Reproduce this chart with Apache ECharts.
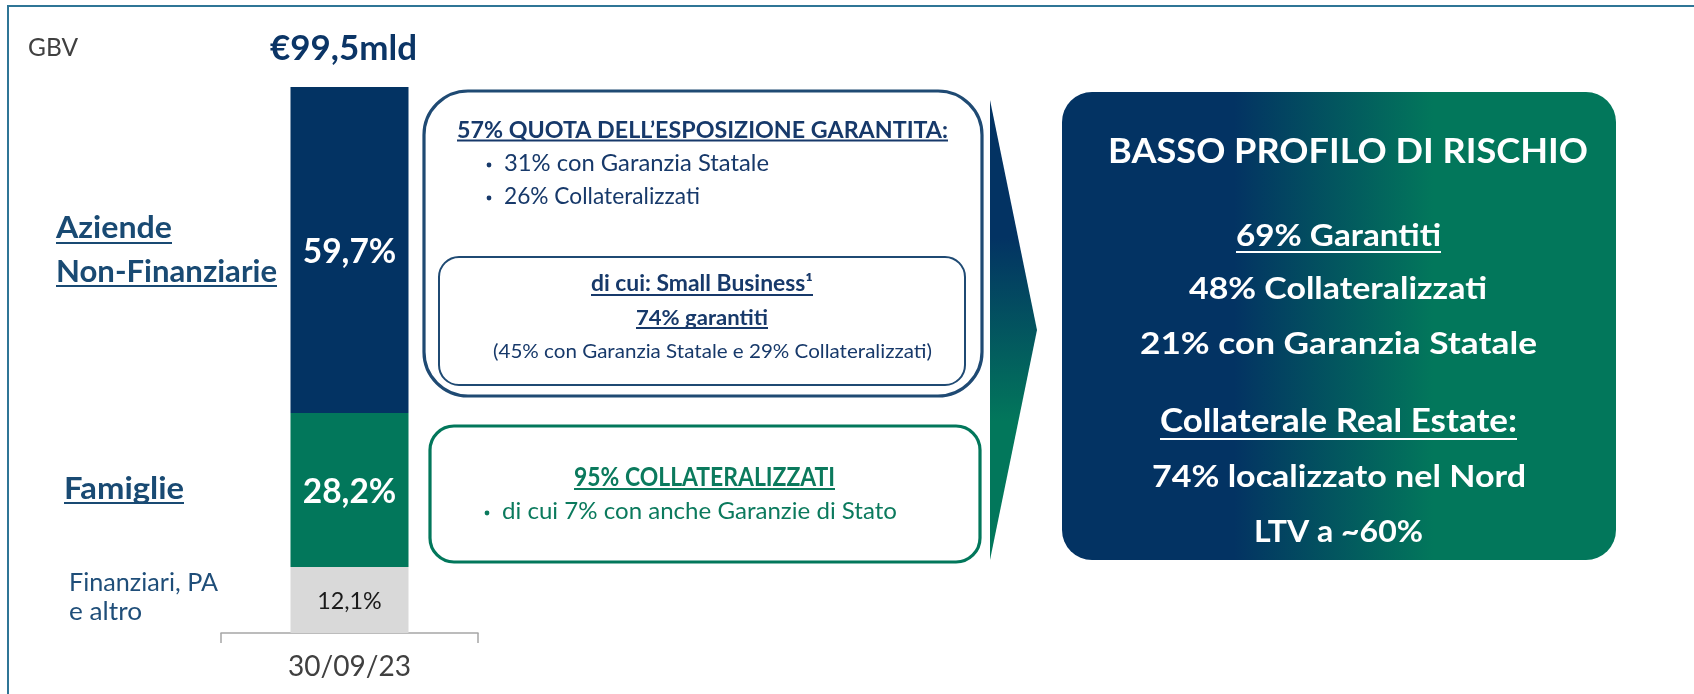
<!DOCTYPE html>
<html><head><meta charset="utf-8">
<script src="https://cdn.jsdelivr.net/npm/echarts@6/dist/echarts.min.js"></script>
<style>html,body{margin:0;padding:0;background:#fff}#c{width:1694px;height:694px}</style>
</head><body><div id="c"></div>
<script>
// ---------- DATA ----------
const categories = ['30/09/23'];
const segNames = ['Finanziari, PA e altro', 'Famiglie', 'Aziende Non-Finanziarie'];
const finanziari = [12.1];
const famiglie = [28.2];
const aziende = [59.7];
const gbvLabel = 'GBV';
const totalLabel = '€99,5mld';
const leftLabels = [['Aziende', 'Non-Finanziarie'], ['Famiglie'], ['Finanziari, PA', 'e altro']];
const boxAziende = ['57% QUOTA DELL’ESPOSIZIONE GARANTITA:', '31% con Garanzia Statale', '26% Collateralizzati'];
const boxSmallBusiness = ['di cui: Small Business¹', '74% garantiti', '(45% con Garanzia Statale e 29% Collateralizzati)'];
const boxFamiglie = ['95% COLLATERALIZZATI', 'di cui 7% con anche Garanzie di Stato'];
const boxRischio = ['BASSO PROFILO DI RISCHIO', '69% Garantiti', '48% Collateralizzati', '21% con Garanzia Statale',
  'Collaterale Real Estate:', '74% localizzato nel Nord', 'LTV a ~60%'];

// ---------- STYLE ----------
const NAVY = '#033363', GREEN = '#02775b', GREY = '#d9d9d9';
const FR = "Lato, 'Noto Sans', sans-serif";
const CAP = 0.7165;
const mctx = document.createElement('canvas').getContext('2d');
function measure(text, weight, size) {
  mctx.font = weight + ' ' + size + 'px ' + FR;
  return mctx.measureText(text).width;
}
function fit(text, weight, w) { return 100 * w / measure(text, weight, 100); }
const fmt = p => String(p.value).replace('.', ',') + '%';

const chart = echarts.init(document.getElementById('c'));
const s597 = 24 / CAP;
const s121 = 16.7 / CAP;
const sAx = fit(categories[0], 'normal', 123);

function barSeries(name, data, color, lblColor, weight, size) {
  return {
    name, type: 'bar', stack: 'g', data, barWidth: 118, itemStyle: { color },
    emphasis: { disabled: true },
    label: { show: true, position: 'inside', formatter: fmt, color: lblColor, fontFamily: FR,
      fontWeight: weight, fontSize: size, offset: [0, 2] }
  };
}

chart.setOption({
  animation: false,
  grid: { left: 221, right: 1694 - 478, top: 87, bottom: 61 },
  xAxis: { type: 'category', data: categories,
    axisLine: { lineStyle: { color: '#a6a6a6', width: 1.5 } },
    axisTick: { show: true, length: 10, lineStyle: { color: '#a6a6a6', width: 1.5 } },
    axisLabel: { color: '#404040', fontSize: sAx, fontFamily: FR, margin: 20 } },
  yAxis: { type: 'value', min: 0, max: 100, show: false },
  series: [
    barSeries(segNames[0], finanziari, GREY, '#1a1a1a', 'normal', s121),
    barSeries(segNames[1], famiglie, GREEN, '#fff', 'bold', s597),
    barSeries(segNames[2], aziende, NAVY, '#fff', 'bold', s597)
  ]
});

// ---------- GRAPHICS ----------
const G = [];
// text with a given cap height, stretched horizontally to span x0..x1
function T(text, x0, x1, cy, weight, fill, capH, ul) {
  const size = capH / CAP;
  const sx = (x1 - x0) / measure(text, weight, size);
  G.push({ type: 'text', x: x0, y: cy, scaleX: sx, silent: true, z: 10,
    style: { text, font: weight + ' ' + size.toFixed(2) + 'px ' + FR, fill, align: 'left', verticalAlign: 'middle' } });
  if (ul) G.push({ type: 'line', silent: true, z: 10, shape: { x1: x0, y1: ul, x2: x1, y2: ul },
    style: { stroke: fill, lineWidth: 2 } });
}
function dot(x, cy, fill) {
  G.push({ type: 'circle', silent: true, z: 10, shape: { cx: x, cy: cy, r: 2.4 }, style: { fill } });
}
// frame
G.push({ type: 'rect', silent: true, shape: { x: 8, y: 6, width: 1720, height: 720 },
  style: { fill: 'none', stroke: '#2f7596', lineWidth: 2 } });

// header
T(gbvLabel, 28, 78, 48, 'normal', '#404040', 17.5);
T(totalLabel, 270, 417, 49, 'bold', '#0b3566', 24.5);

// left labels placed at segment midpoints
const cat = categories[0];
const yMidAz = chart.convertToPixel({ gridIndex: 0 }, [cat, finanziari[0] + famiglie[0] + aziende[0] / 2])[1];
const yMidFam = chart.convertToPixel({ gridIndex: 0 }, [cat, finanziari[0] + famiglie[0] / 2])[1];
const yMidFin = chart.convertToPixel({ gridIndex: 0 }, [cat, finanziari[0] / 2])[1];
const LC = '#194a73';
T(leftLabels[0][0], 56, 172, yMidAz - 22, 'bold', LC, 22, yMidAz - 7);
T(leftLabels[0][1], 56, 277, yMidAz + 22, 'bold', LC, 22, yMidAz + 36);
T(leftLabels[1][0], 64, 184, yMidFam - 1, 'bold', LC, 22.5, yMidFam + 13);
T(leftLabels[2][0], 69, 218, yMidFin - 17, 'normal', '#1f4e79', 17.3);
T(leftLabels[2][1], 69, 142, yMidFin + 12, 'normal', '#1f4e79', 17.3);

// middle boxes
const BN = '#1f4a73', TN = '#17396a', TG = '#0b7a5d';
G.push({ type: 'rect', silent: true, shape: { x: 424, y: 91, width: 982 - 424, height: 396 - 91, r: 44 },
  style: { fill: 'none', stroke: BN, lineWidth: 3.2 } });
G.push({ type: 'rect', silent: true, shape: { x: 439, y: 257, width: 965 - 439, height: 385 - 257, r: 20 },
  style: { fill: 'none', stroke: BN, lineWidth: 2 } });
G.push({ type: 'rect', silent: true, shape: { x: 430, y: 426, width: 980 - 430, height: 562 - 426, r: 24 },
  style: { fill: 'none', stroke: GREEN, lineWidth: 3.2 } });

T(boxAziende[0], 457, 948, 130, 'bold', TN, 17, 140.5);
dot(489, 165, TN); T(boxAziende[1], 504, 769, 164, 'normal', TN, 16.5);
dot(489, 198, TN); T(boxAziende[2], 504, 700, 197, 'normal', TN, 16.5);
T(boxSmallBusiness[0], 591, 813, 284, 'bold', TN, 16, 295);
T(boxSmallBusiness[1], 636, 768, 318, 'bold', TN, 15.5, 328);
T(boxSmallBusiness[2], 493, 932, 352, 'normal', TN, 14.3);
T(boxFamiglie[0], 574, 835, 478, 'bold', TG, 18.5, 489);
dot(487, 513, TG); T(boxFamiglie[1], 502, 897, 512, 'normal', TG, 16.5);

// arrow
G.push({ type: 'polygon', silent: true, shape: { points: [[990, 100], [1037, 330], [990, 560]] },
  style: { fill: { type: 'linear', x: 0, y: 0, x2: 0, y2: 1, colorStops: [
    { offset: 0, color: NAVY }, { offset: 0.3, color: NAVY }, { offset: 0.7, color: GREEN }, { offset: 1, color: GREEN }] } } });

// right box
G.push({ type: 'rect', silent: true, shape: { x: 1062, y: 92, width: 1616 - 1062, height: 560 - 92, r: 30 },
  style: { fill: { type: 'linear', x: 0, y: 0, x2: 1, y2: 0, colorStops: [
    { offset: 0, color: NAVY }, { offset: 0.31, color: NAVY }, { offset: 0.67, color: GREEN }, { offset: 1, color: GREEN }] } } });
const W = '#ffffff';
T(boxRischio[0], 1108, 1588, 152, 'bold', W, 25);
T(boxRischio[1], 1236, 1441, 236, 'bold', W, 22, 252);
T(boxRischio[2], 1189, 1487, 289, 'bold', W, 22);
T(boxRischio[3], 1140, 1537, 344, 'bold', W, 22);
T(boxRischio[4], 1160, 1517, 422, 'bold', W, 23, 439);
T(boxRischio[5], 1152, 1526, 477, 'bold', W, 22.5);
T(boxRischio[6], 1254, 1423, 532, 'bold', W, 22.5);

chart.setOption({ graphic: { elements: G } });
</script>
</body></html>
